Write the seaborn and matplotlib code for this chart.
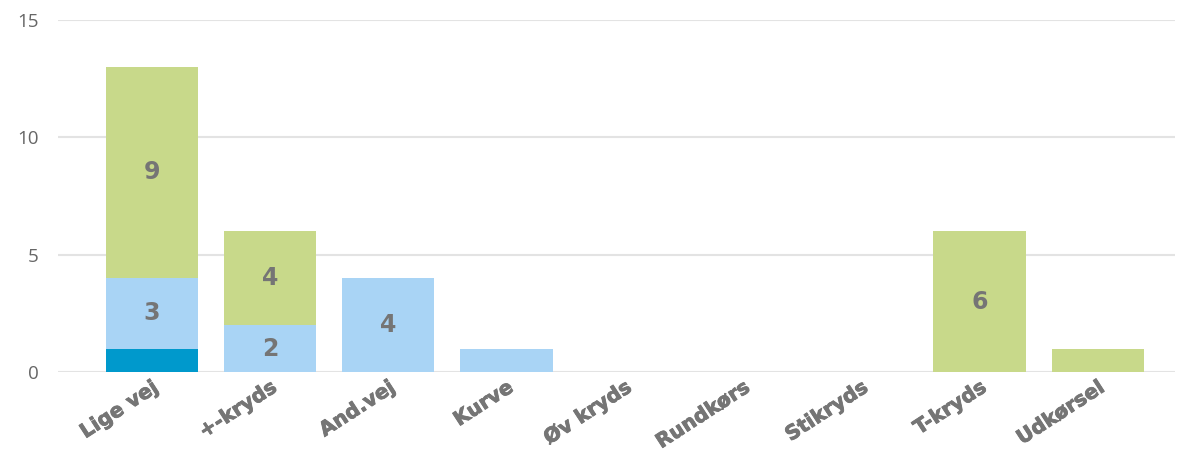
import seaborn as sns
import pandas as pd
import numpy as np
import matplotlib.pyplot as plt
import matplotlib.patheffects as pe

categories = ['Lige vej', '+-kryds', 'And.vej', 'Kurve', 'Øv kryds',
              'Rundkørs', 'Stikryds', 'T-kryds', 'Udkørsel']
dark_blue = [1, 0, 0, 0, 0, 0, 0, 0, 0]
light_blue = [3, 2, 4, 1, 0, 0, 0, 0, 0]
green = [9, 4, 0, 0, 0, 0, 0, 6, 1]

series = [('dark', dark_blue, '#0099cc'),
          ('light', light_blue, '#a9d4f5'),
          ('green', green, '#c8d98a')]

sns.set_theme(style='white')
plt.rcParams['font.family'] = ['Open Sans', 'DejaVu Sans']

fig = plt.figure(figsize=(11.89, 4.5), dpi=100)
ax = fig.add_axes([0.049, 0.173, 0.939, 0.783])

bottom = np.zeros(len(categories))
for name, vals, col in series:
    df = pd.DataFrame({'cat': categories, 'val': vals})
    sns.barplot(data=df, x='cat', y='val', order=categories, color=col,
                bottom=bottom, width=0.78, saturation=1, ax=ax,
                linewidth=0, zorder=3)
    # value labels (only shown for values >= 2)
    for i, v in enumerate(vals):
        if v >= 2:
            ax.text(i, bottom[i] + v / 2, str(v), ha='center', va='center',
                    fontsize=17, fontweight='bold', color='#757575',
                    family=['DejaVu Sans'], zorder=4)
    bottom = bottom + np.array(vals)

ax.set_ylim(0, 15)
ax.set_xlim(-0.79, 8.65)
ax.set_yticks([0, 5, 10, 15])
ax.yaxis.grid(True, color='#e3e3e3', linewidth=1.5, zorder=0)
ax.set_axisbelow(True)
for s in ax.spines.values():
    s.set_visible(False)
ax.set_xlabel('')
ax.set_ylabel('')
ax.tick_params(axis='y', labelsize=13.5, colors='#666666', length=0, pad=14)
ax.tick_params(axis='x', length=0, pad=4)
ax.set_xticks(range(len(categories)))
ax.set_xticklabels(categories, rotation=33, ha='right', rotation_mode='anchor',
                   fontsize=14.5, fontweight='heavy', color='#757575',
                   family=['DejaVu Sans'])
for t in ax.get_xticklabels():
    t.set_path_effects([pe.withStroke(linewidth=0.6, foreground='#757575')])

fig.savefig('out.png', dpi=100)
